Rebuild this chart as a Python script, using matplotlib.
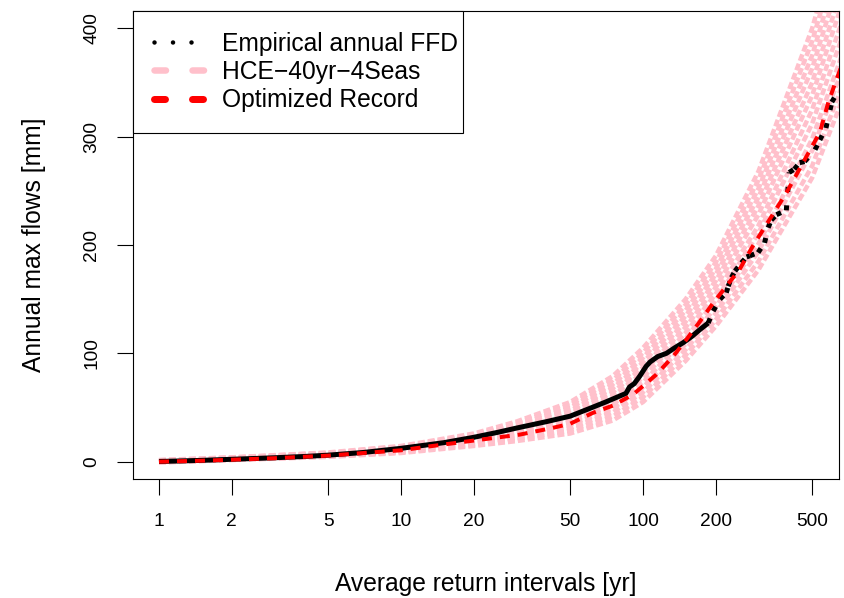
import numpy as np
import matplotlib
matplotlib.use("Agg")
import matplotlib.pyplot as plt
from matplotlib.collections import LineCollection
from matplotlib.lines import Line2D
from matplotlib.patches import Rectangle
from matplotlib.ticker import NullLocator

plt.rcParams['font.family'] = ['Liberation Sans', 'DejaVu Sans']

# ---------------- data ----------------
# Empirical annual flood frequency distribution: densely sampled lower part
emp_T = [1.0, 1.2, 1.5, 2, 3, 4, 5, 7, 10, 15, 20, 25, 30, 40, 50, 60, 70,
         80, 85, 88, 92, 97, 103, 107, 115, 125, 135, 147, 160, 172, 186]
emp_Q = [0.2, 0.6, 1.2, 2.2, 3.6, 4.8, 6.0, 8.5, 12.3, 17.5, 22.5, 27, 31, 37,
         42, 49, 55, 60.5, 63, 69, 72, 79, 88, 92, 97, 100, 105, 110, 116, 122, 128]
# ...and the sparse upper tail (largest events)
tail_T = [186, 195, 208, 221, 225, 232, 240, 255, 268, 276, 299, 318, 329, 339,
          356, 391, 402, 422, 444, 465, 514, 538, 570, 603, 645]
tail_Q = [128, 139, 150, 156, 162, 170, 176, 183.5, 189, 190, 193, 202, 216,
          223, 228, 232, 267, 270, 276, 277, 288, 297, 308, 332, 343]

# HCE-40yr-4Seas ensemble members
hce_T = [1, 2, 5, 10, 20, 30, 50, 75, 100, 150, 200, 300, 500, 800]
hce_members = [
    [-0.8, 1.5, 4.4, 8.0, 14.5, 19.0, 26.0, 38.0, 55.0, 93.0, 125, 177, 262, 380],
    [-0.6, 1.7, 4.8, 8.6, 15.6, 20.6, 28.8, 41.7, 59.5, 98.2, 131, 185, 273, 395],
    [-0.5, 1.9, 5.2, 9.1, 16.5, 22.2, 31.0, 45.5, 64.1, 103.4, 137, 194, 287, 410],
    [-0.3, 2.2, 5.5, 9.8, 17.7, 23.8, 34.0, 49.2, 68.6, 108.5, 143, 201, 298, 426],
    [-0.1, 2.4, 5.9, 10.3, 18.5, 25.4, 36.5, 52.9, 73.2, 113.7, 149, 211, 312, 444],
    [0.1, 2.6, 6.3, 11.0, 19.8, 27.0, 39.0, 56.6, 77.7, 118.9, 155, 218, 325, 460],
    [0.3, 2.9, 6.7, 11.6, 20.7, 28.6, 42.0, 60.4, 82.3, 124.1, 161, 228, 338, 478],
    [0.6, 3.1, 7.0, 12.1, 21.9, 30.2, 44.5, 64.1, 86.8, 129.3, 167, 236, 350, 494],
    [0.8, 3.3, 7.4, 12.8, 22.9, 31.8, 47.0, 67.8, 91.4, 134.5, 173, 244, 363, 511],
    [1.0, 3.6, 7.8, 13.3, 23.8, 33.4, 50.0, 71.5, 95.9, 139.6, 178, 252, 375, 527],
    [1.3, 3.8, 8.1, 13.9, 25.0, 35.2, 52.5, 75.3, 100.5, 144.8, 184, 260, 388, 544],
    [1.5, 4.0, 8.5, 14.5, 26.0, 37.0, 55.0, 79.0, 105.0, 150.0, 190, 268, 400, 560],
]

# Optimized record
opt_T = [1, 1.5, 2, 3, 5, 10, 13, 20, 31, 42, 50, 62, 75, 91, 113, 133, 151,
         172, 195, 221, 250, 284, 391, 491, 538, 582, 630, 700]
opt_Q = [0, 0.9, 1.8, 3.2, 5.6, 10.5, 14, 19.5, 25, 31, 35, 45, 51.7, 62, 80,
         97, 112.6, 129.5, 146.5, 162, 177, 198.8, 248, 288, 304, 331, 352.7, 380]

x_ticks = [1, 2, 5, 10, 20, 50, 100, 200, 500]
y_ticks = [0, 100, 200, 300, 400]
legend_labels = ["Empirical annual FFD", "HCE\u221240yr\u22124Seas", "Optimized Record"]

# ---------------- figure ----------------
W, H, DPI = 844, 598, 100
PT = 72.0 / DPI  # points per pixel

fig = plt.figure(figsize=(W / DPI, H / DPI), dpi=DPI)
L, R, T, B = 133, 838.7, 11, 479
ax = fig.add_axes([L / W, 1 - B / H, (R - L) / W, (B - T) / H])

PINK = '#FFC0CB'

for member in hce_members:
    ax.plot(hce_T, member, color=PINK, lw=4.5 * PT, linestyle=(0, (1.55, 0.67)),
            dash_capstyle='butt', zorder=1)

ax.plot(emp_T, emp_Q, color='black', lw=5 * PT, solid_capstyle='butt', zorder=2)
tail_segs = [[(tail_T[i], tail_Q[i]), (tail_T[i + 1], tail_Q[i + 1])]
             for i in range(len(tail_T) - 1)]
ax.add_collection(LineCollection(tail_segs, colors='black', linewidths=5 * PT,
                                 linestyles=[(0, (1.0, 2.7))], capstyle='butt',
                                 zorder=2))

ax.plot(opt_T, opt_Q, color='red', lw=4 * PT, linestyle=(0, (2.5, 2.0)),
        dash_capstyle='butt', zorder=3)

ax.set_xscale('log')
ax.set_xlim(10 ** -0.1074, 10 ** 2.8087)
ax.set_ylim(-16, 416)
ax.xaxis.set_minor_locator(NullLocator())
ax.set_xticks(x_ticks, labels=[str(v) for v in x_ticks])
ax.set_yticks(y_ticks, labels=[str(v) for v in y_ticks], rotation=90, va='center')
ax.tick_params(length=16 * PT, width=0.8, labelsize=13.8, colors='black')
ax.tick_params(axis='x', pad=13)
ax.tick_params(axis='y', pad=12)
for sp in ax.spines.values():
    sp.set_linewidth(0.8)
    sp.set_color('black')

fig.text((L + R) / 2 / W, 1 - 591 / H, "Average return intervals [yr]",
         ha='center', va='baseline', fontsize=17.7)
fig.text(41.5 / W, 1 - (T + B) / 2 / H, "Annual max flows [mm]", rotation=90,
         rotation_mode='anchor', ha='center', va='baseline', fontsize=17.7)

handles = [
    Line2D([], [], color='black', lw=4.5 * PT, linestyle=(0, (0.01, 4.1)),
           dash_capstyle='round'),
    Line2D([], [], color=PINK, lw=6.5 * PT, linestyle=(0, (1.77, 4.08)),
           dash_capstyle='round'),
    Line2D([], [], color='red', lw=7 * PT, linestyle=(0, (1.57, 3.86)),
           dash_capstyle='round'),
]
leg = ax.legend(handles, legend_labels, loc='upper left', bbox_to_anchor=(0, 1),
                borderaxespad=0, frameon=False,
                fontsize=17.7, handlelength=2.03, handletextpad=0.73,
                labelspacing=0.17, borderpad=0.85)
leg.set_zorder(5)

# legend box: tight on the right side of the text, as in base-graphics legends
fig.canvas.draw()
lb = leg.get_window_extent().transformed(ax.transAxes.inverted())
tb = max(t.get_window_extent().x1 for t in leg.get_texts())
right = ax.transAxes.inverted().transform((tb + 5, 0))[0]
ax.add_patch(Rectangle((0, lb.y0), right, 1 - lb.y0, transform=ax.transAxes,
                       facecolor='white', edgecolor='black', linewidth=0.8,
                       zorder=4.5, clip_on=False))

fig.savefig('out.png', dpi=DPI)
